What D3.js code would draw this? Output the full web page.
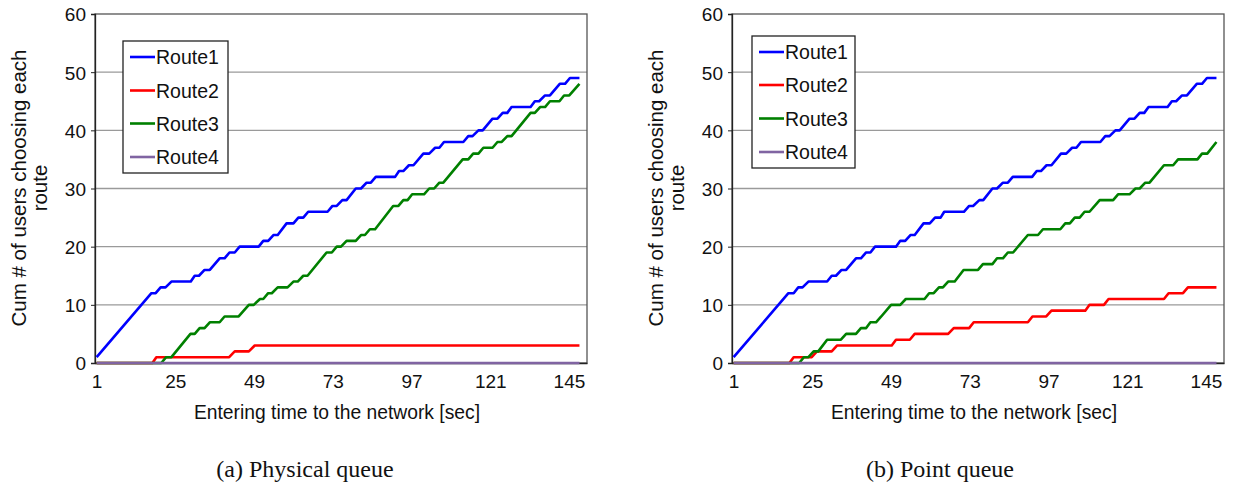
<!DOCTYPE html>
<html><head><meta charset="utf-8">
<script src="https://cdn.jsdelivr.net/npm/d3@7"></script>
<style>body{margin:0;background:#fff}</style>
</head><body>
<svg id="c" width="1235" height="486"></svg>
<script>
const xTickLabels = [1, 25, 49, 73, 97, 121, 145];
const yTickValues = [0, 10, 20, 30, 40, 50, 60];
const routeNames = ["Route1", "Route2", "Route3", "Route4"];
const panelTitles = ["(a) Physical queue", "(b) Point queue"];
const xAxisTitle = "Entering time to the network [sec]";
const yAxisTitleLines = ["Cum # of users choosing each", "route"];

// read-off corner points: [entering time (sec), cumulative users]
const physRoute1 = [[1,1],[17.7,12],[19,12],[20.5,13],[22,13],[23.8,14],[29.7,14],[30.9,15],[32.2,15],[33.9,16],[35.5,16],[38.5,18],[40,18],[41.5,19],[43.1,19],[44.6,20],[50.4,20],[51.8,21],[53.3,21],[54.9,22],[56.2,22],[58.9,24],[61,24],[62.5,25],[64,25],[65.5,26],[71.4,26],[72.9,27],[74.2,27],[75.9,28],[77.2,28],[80,30],[81.6,30],[83.3,31],[84.6,31],[86.1,32],[92,32],[93.2,33],[94.5,33],[96.2,34],[97.6,34],[100.6,36],[102.4,36],[104.2,37],[105.5,37],[106.9,38],[112.8,38],[114.3,39],[115.6,39],[117.4,40],[118.7,40],[121.7,42],[123.2,42],[124.8,43],[126.2,43],[127.5,44],[133.3,44],[134.6,45],[135.9,45],[137.7,46],[139.2,46],[142.2,48],[143.8,48],[145.3,49],[148.2,49]];
const physRoute2 = [[1,0],[18,0],[19.2,1],[41.4,1],[43.1,2],[47.4,2],[49.2,3],[148.2,3]];
const physRoute3 = [[1,0],[20.7,0],[22.2,1],[23.8,1],[29.6,5],[30.9,5],[32.4,6],[33.9,6],[35.5,7],[38.5,7],[40,8],[44.3,8],[47.4,10],[48.9,10],[50.8,11],[51.8,11],[53.3,12],[54.4,12],[56.2,13],[59.2,13],[61,14],[62.3,14],[64,15],[65.3,15],[71.1,19],[72.7,19],[74.2,20],[75.5,20],[77.2,21],[80,21],[81.6,22],[82.8,22],[84.3,23],[85.9,23],[91.4,27],[93,27],[94.5,28],[95.8,28],[97.2,29],[100.8,29],[102.4,30],[103.9,30],[105.5,31],[106.7,31],[112.6,35],[114.3,35],[115.8,36],[117.4,36],[118.9,37],[121.7,37],[123.2,38],[124.5,38],[126.2,39],[127.5,39],[133.3,43],[134.6,43],[136.2,44],[137.7,44],[139.2,45],[142.1,45],[143.5,46],[145.1,46],[148.2,48]];
const physRoute4 = [[1,0],[148.2,0]];

const pointRoute1 = [[1,1],[17.7,12],[19.3,12],[20.7,13],[22,13],[23.8,14],[29.5,14],[30.9,15],[32.2,15],[33.9,16],[35.3,16],[38.3,18],[39.8,18],[41.4,19],[42.7,19],[44.1,20],[50.5,20],[51.8,21],[53.3,21],[54.9,22],[56.2,22],[58.9,24],[60.8,24],[62.4,25],[64.1,25],[65.2,26],[71.2,26],[72.8,27],[74,27],[75.9,28],[77.1,28],[79.9,30],[81.3,30],[83.1,31],[84.6,31],[86.1,32],[92,32],[93.4,33],[94.7,33],[96.4,34],[97.9,34],[100.8,36],[102.4,36],[104.2,37],[105.5,37],[106.9,38],[112.8,38],[114.3,39],[115.6,39],[117.4,40],[118.7,40],[121.7,42],[123.2,42],[124.8,43],[126.2,43],[127.5,44],[133.3,44],[134.6,45],[135.9,45],[137.7,46],[139.2,46],[142.2,48],[143.8,48],[145.3,49],[148.2,49]];
const pointRoute2 = [[1,0],[18,0],[19.3,1],[24.8,1],[26.4,2],[30.9,2],[32.5,3],[49.2,3],[50.5,4],[54.7,4],[56.2,5],[66.4,5],[68.1,6],[72.8,6],[74.2,7],[90.7,7],[92.1,8],[96.3,8],[97.9,9],[108.2,9],[109.5,10],[113.9,10],[115.3,11],[132.2,11],[133.6,12],[138,12],[139.5,13],[148.2,13]];
const pointRoute3 = [[1,0],[21,0],[22.4,1],[23.8,1],[25.4,2],[26.8,2],[29.5,4],[33.7,4],[35.3,5],[38.3,5],[39.8,6],[41.4,6],[42.7,7],[44.4,7],[46,8],[49,10],[51.8,10],[53.5,11],[59.2,11],[60.6,12],[62,12],[63.6,13],[64.8,13],[66.4,14],[68.4,14],[71.1,16],[75.5,16],[77,17],[79.9,17],[81.3,18],[83.1,18],[84.6,19],[86.2,19],[90.7,22],[93.8,22],[95.3,23],[100.6,23],[102.1,24],[103.5,24],[105,25],[106.5,25],[108,26],[109.5,26],[112.6,28],[116.7,28],[118.2,29],[121.7,29],[123.5,30],[124.8,30],[126.5,31],[127.8,31],[132.2,34],[135,34],[136.5,35],[142.4,35],[143.8,36],[145.4,36],[148.2,38]];
const pointRoute4 = [[1,0],[148.2,0]];

const routeColors = ["#0000FF", "#FF0000", "#008000", "#8064A2"];
const SANS = "Liberation Sans, Arial, sans-serif";

const svg = d3.select("#c");
svg.append("rect").attr("width", 1235).attr("height", 486).attr("fill", "#fff");

const panels = [
  {left: 95, right: 587, top: 14, bottom: 363, series: [physRoute1, physRoute2, physRoute3, physRoute4],
   legend: {x: 123, y: 41, w: 105, h: 132, rowY: [57, 90.5, 123.5, 157]}, captionX: 305},
  {left: 732, right: 1224, top: 14, bottom: 363, series: [pointRoute1, pointRoute2, pointRoute3, pointRoute4],
   legend: {x: 752, y: 36, w: 103, h: 132, rowY: [52, 85, 118.5, 152]}, captionX: 940}
];

panels.forEach((p, pi) => {
  const g = svg.append("g");
  const x = d3.scaleLinear().domain([0.5, 150.5]).range([p.left, p.right]);
  const y = d3.scaleLinear().domain([0, 60]).range([p.bottom, p.top]);

  g.append("g").selectAll("line").data(yTickValues.filter(v => v > 0 && v < 60)).join("line")
    .attr("x1", p.left).attr("x2", p.right)
    .attr("y1", d => y(d)).attr("y2", d => y(d))
    .attr("stroke", "#9a9a9a").attr("stroke-width", 1.3);

  g.append("rect").attr("x", p.left).attr("y", p.top)
    .attr("width", p.right - p.left).attr("height", p.bottom - p.top)
    .attr("fill", "none").attr("stroke", "#555").attr("stroke-width", 1.3);

  const yAxis = d3.axisLeft(y).tickValues(yTickValues).tickSize(4).tickPadding(5);
  const ya = g.append("g").attr("transform", `translate(${p.left},0)`).call(yAxis);
  ya.select(".domain").attr("stroke", "#222").attr("stroke-width", 1.3);
  ya.selectAll(".tick line").attr("stroke", "#222");
  ya.selectAll("text").attr("font-family", SANS)
    .attr("font-size", 19).attr("fill", "#111").attr("dy", "0.36em");

  const xAxis = d3.axisBottom(x).tickValues(xTickLabels).tickSize(0).tickPadding(12);
  const xa = g.append("g").attr("transform", `translate(0,${p.bottom})`).call(xAxis);
  xa.select(".domain").attr("stroke", "#222").attr("stroke-width", 1.3);
  xa.selectAll("text").attr("font-family", SANS)
    .attr("font-size", 19).attr("fill", "#111");

  const line = d3.line().x(d => x(d[0])).y(d => y(d[1]));
  p.series.forEach((s, i) => {
    g.append("path").datum(s).attr("d", line)
      .attr("fill", "none").attr("stroke", routeColors[i])
      .attr("stroke-width", 2.6).attr("stroke-linejoin", "round");
  });

  const L = p.legend;
  const lg = g.append("g");
  lg.append("rect").attr("x", L.x).attr("y", L.y).attr("width", L.w).attr("height", L.h)
    .attr("fill", "#fff").attr("stroke", "#222").attr("stroke-width", 1.3);
  routeNames.forEach((name, i) => {
    lg.append("line").attr("x1", L.x + 7).attr("x2", L.x + 32)
      .attr("y1", L.rowY[i]).attr("y2", L.rowY[i])
      .attr("stroke", routeColors[i]).attr("stroke-width", 2.6);
    lg.append("text").attr("x", L.x + 33).attr("y", L.rowY[i]).attr("dy", "0.36em")
      .attr("font-family", SANS).attr("font-size", 19.5)
      .attr("fill", "#111").text(name);
  });

  const cx = (p.left + p.right) / 2;
  g.append("text").attr("x", cx - 4).attr("y", 419).attr("text-anchor", "middle")
    .attr("font-family", SANS).attr("font-size", 19.3)
    .attr("fill", "#111").text(xAxisTitle);
  yAxisTitleLines.forEach((t, i) => {
    g.append("text").attr("transform", `translate(${p.left - 69 + i * 21},188) rotate(-90)`)
      .attr("text-anchor", "middle")
      .attr("font-family", SANS).attr("font-size", 20.5)
      .attr("fill", "#111").text(t);
  });

  g.append("text").attr("x", p.captionX).attr("y", 477).attr("text-anchor", "middle")
    .attr("font-family", "Liberation Serif, Times New Roman, serif").attr("font-size", 24)
    .attr("fill", "#111").text(panelTitles[pi]);
});
</script>
</body></html>
